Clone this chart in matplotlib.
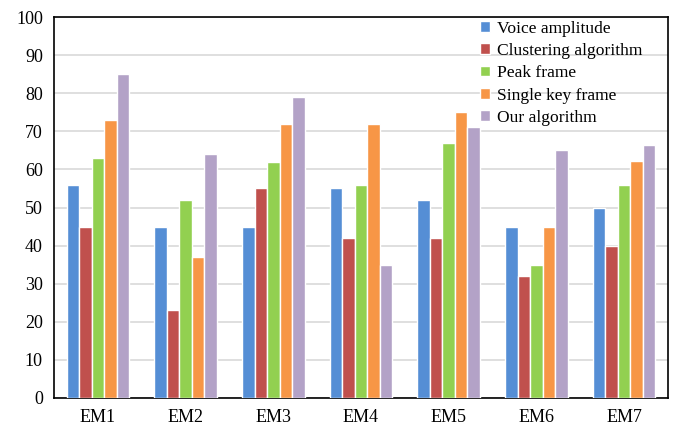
import matplotlib
matplotlib.use("Agg")
import matplotlib.pyplot as plt
import numpy as np

categories = ["EM1", "EM2", "EM3", "EM4", "EM5", "EM6", "EM7"]
series_names = ["Voice amplitude", "Clustering algorithm", "Peak frame",
                "Single key frame", "Our algorithm"]
voice_amplitude = [56, 45, 45, 55, 52, 45, 49.8]
clustering_algorithm = [45, 23, 55, 42, 42, 32, 39.8]
peak_frame = [63, 52, 62, 56, 67, 35, 55.8]
single_key_frame = [73, 37, 72, 72, 75, 45, 62.3]
our_algorithm = [85, 64, 79, 35, 71, 65, 66.5]
yticks = list(range(0, 101, 10))

series = [voice_amplitude, clustering_algorithm, peak_frame, single_key_frame, our_algorithm]
colors = ["#558ED5", "#C0504D", "#92D050", "#F79646", "#B3A2C7"]

plt.rcParams["font.family"] = ["Liberation Serif", "DejaVu Serif"]
fig = plt.figure(figsize=(6.76, 4.29), dpi=100)
ax = fig.add_axes([54/676, 1-398/429, 614/676, 381/429])

x = np.arange(len(categories))
slot = 0.1425
for i, (vals, c, name) in enumerate(zip(series, colors, series_names)):
    ax.bar(x + (i - 2) * slot, vals, width=slot, color=c, edgecolor="white",
           linewidth=1.0, label=name, zorder=3)

ax.set_xlim(-0.5, len(categories) - 0.5)
ax.set_ylim(0, 100)
ax.set_yticks(yticks)
ax.set_xticks(x)
ax.set_xticklabels(categories)
ax.tick_params(axis="both", length=0, labelsize=13, colors="black")
ax.tick_params(axis="x", pad=8)
ax.tick_params(axis="y", pad=8)
ax.yaxis.grid(True, color="#D9D9D9", linewidth=1.2, zorder=0)
for s in ax.spines.values():
    s.set_color("black")
    s.set_linewidth(1.2)

leg = ax.legend(loc="upper right", bbox_to_anchor=(0.975, 1.018), frameon=False,
                fontsize=12.6, handlelength=0.55, handleheight=0.55, handletextpad=0.4,
                labelspacing=0.36, borderaxespad=0.2)

fig.savefig("out.png", dpi=100)
